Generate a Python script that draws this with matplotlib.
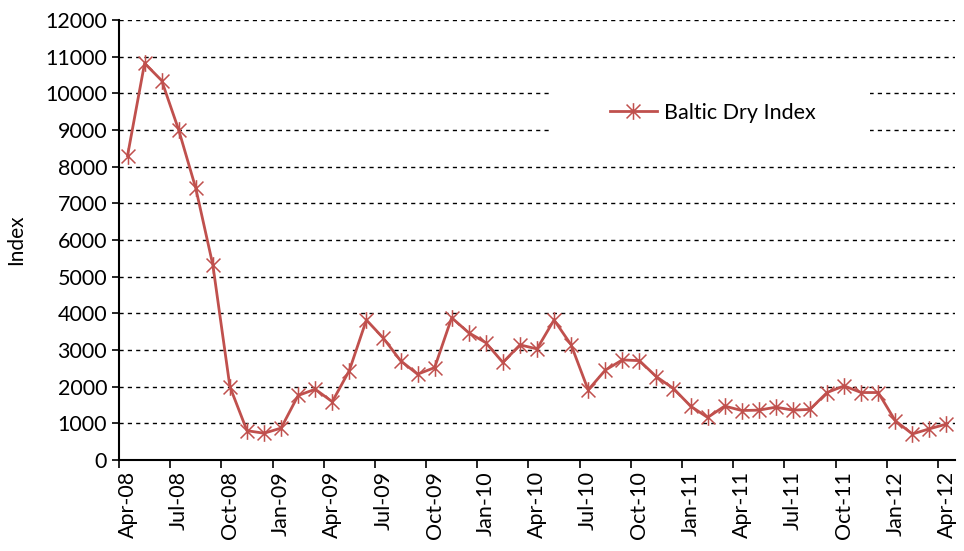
import matplotlib.pyplot as plt
import numpy as np
from matplotlib.path import Path
from matplotlib.patches import Rectangle

# monthly Baltic Dry Index, Apr-08 .. Apr-12
bdi = [8300, 10820, 10350, 9000, 7410, 5320, 2000, 800, 730, 870,
       1760, 1930, 1590, 2440, 3820, 3320, 2710, 2340, 2520, 3880,
       3470, 3200, 2660, 3140, 3030, 3820, 3140, 1910, 2450, 2730,
       2710, 2270, 1950, 1470, 1160, 1470, 1350, 1360, 1440, 1360,
       1380, 1840, 2020, 1840, 1840, 1070, 710, 850, 980]
tick_labels = ['Apr-08', 'Jul-08', 'Oct-08', 'Jan-09', 'Apr-09', 'Jul-09',
               'Oct-09', 'Jan-10', 'Apr-10', 'Jul-10', 'Oct-10', 'Jan-11',
               'Apr-11', 'Jul-11', 'Oct-11', 'Jan-12', 'Apr-12']

plt.rcParams['font.family'] = ['Lato', 'DejaVu Sans']

# excel style star marker: an X with a vertical bar
star = Path([(-1, -1), (1, 1), (-1, 1), (1, -1), (0, -1.2), (0, 1.2)],
            [Path.MOVETO, Path.LINETO] * 3)

fig = plt.figure(figsize=(9.64, 5.51), dpi=100)
ax = fig.add_axes([119/964, 91/551, 836/964, 440/551])

x = np.arange(len(bdi))
ax.plot(x, bdi, color='#C0504D', linewidth=2, marker=star, markersize=12,
        markeredgewidth=1.1, label='Baltic Dry Index', zorder=3)

ax.set_xlim(-0.5, len(bdi) - 0.5)
ax.set_ylim(0, 12000)
ax.set_yticks(np.arange(0, 12001, 1000))
ax.set_xticks(np.arange(0, len(bdi), 3))
ax.set_xticklabels(tick_labels, rotation=90)
ax.set_xticks(np.arange(-0.5, len(bdi) - 1, 3), minor=True)
ax.tick_params(axis='x', which='major', length=0, pad=8, labelsize=15.5)
ax.tick_params(axis='x', which='minor', length=6, width=1.2)
ax.tick_params(axis='y', length=5, width=1.2, labelsize=15.5)
ax.set_ylabel('Index', fontsize=15, labelpad=14)

ax.set_axisbelow(True)
ax.yaxis.grid(True, color='black', linewidth=1, linestyle=(0, (3, 3)))
for s in ['top', 'right']:
    ax.spines[s].set_visible(False)
for s in ['left', 'bottom']:
    ax.spines[s].set_linewidth(1.5)

# white legend area that breaks the gridlines
ax.add_patch(Rectangle((0.518, 0.74), 0.38, 0.105, transform=ax.transAxes,
                       facecolor='white', edgecolor='none', zorder=1))
ax.legend(loc='center', bbox_to_anchor=(0.71, 0.789), frameon=False,
          fontsize=15.5, handlelength=2.2, handletextpad=0.3)

fig.savefig('out.png', dpi=100)
